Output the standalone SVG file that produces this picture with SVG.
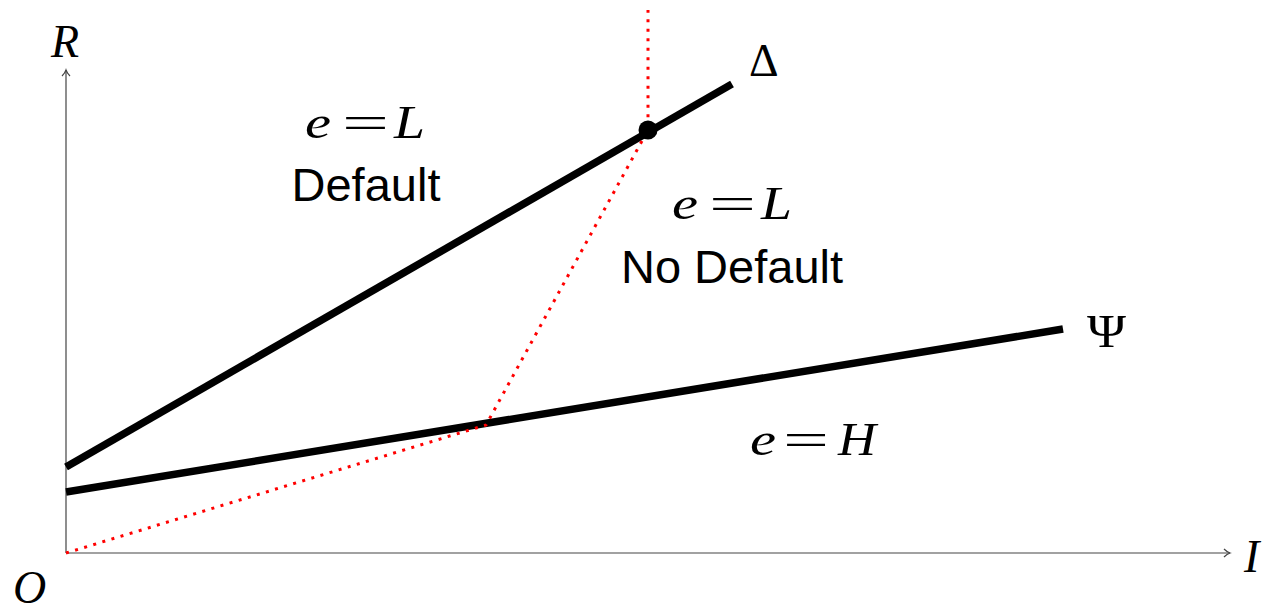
<svg xmlns="http://www.w3.org/2000/svg" width="1262" height="608" viewBox="0 0 1262 608">
<style>
.axis{stroke:#444;stroke-width:1.2;fill:none}
.thick{stroke:#000;stroke-width:7.5;fill:none;stroke-linecap:butt}
.red{stroke:#f00;stroke-width:3;fill:none;stroke-dasharray:3 6.5}
.m{font-family:"Liberation Serif","Times New Roman",serif;font-size:46px;fill:#000}
.i{font-style:italic}
.s{font-family:"Liberation Sans",Arial,sans-serif;font-size:47px;fill:#000}
</style>
<defs>
<marker id="ah" markerWidth="10" markerHeight="10" refX="8" refY="5" orient="auto" markerUnits="userSpaceOnUse">
<path d="M2,1 Q5,4 8,5 Q5,6 2,9" fill="none" stroke="#444" stroke-width="1.2"/>
</marker>
</defs>
<g id="axes">
<line class="axis" x1="66" y1="553" x2="66" y2="70" marker-end="url(#ah)"/>
<line class="axis" x1="66" y1="553" x2="1230" y2="553" marker-end="url(#ah)"/>
</g>
<g id="connectors">
<line id="delta-line" class="thick" x1="66" y1="467" x2="732" y2="84"/>
<line id="psi-line" class="thick" x1="66" y1="492" x2="1063" y2="329"/>
<polyline id="red-path" class="red" points="66,553 486,425 648,130 648,10"/>
</g>
<g id="dot"><circle cx="648" cy="130" r="9.5" fill="#000"/></g>
<g id="axis-labels">
<text class="m i" x="51" y="57" font-size="43">R</text>
<text class="m i" x="13" y="603" font-size="44">O</text>
<text class="m i" x="1244" y="572" font-size="48">I</text>
<text class="m" x="749" y="76" font-size="48">Δ</text>
<text class="m" x="1087" y="347" font-size="50" textLength="39" lengthAdjust="spacingAndGlyphs">Ψ</text>
</g>
<g id="region-default">
<text class="m i" x="305" y="138" textLength="26" lengthAdjust="spacingAndGlyphs">e</text>
<text class="m" x="342" y="138" textLength="47" lengthAdjust="spacingAndGlyphs">=</text>
<text class="m i" x="394" y="138" textLength="31" lengthAdjust="spacingAndGlyphs">L</text>
<text class="s" x="366" y="201" text-anchor="middle">Default</text>
</g>
<g id="region-nodefault">
<text class="m i" x="672" y="219" textLength="26" lengthAdjust="spacingAndGlyphs">e</text>
<text class="m" x="709" y="219" textLength="47" lengthAdjust="spacingAndGlyphs">=</text>
<text class="m i" x="761" y="219" textLength="31" lengthAdjust="spacingAndGlyphs">L</text>
<text class="s" x="732" y="283" text-anchor="middle">No Default</text>
</g>
<g id="region-high">
<text class="m i" x="750" y="455" textLength="26" lengthAdjust="spacingAndGlyphs">e</text>
<text class="m" x="783" y="455" textLength="46" lengthAdjust="spacingAndGlyphs">=</text>
<text class="m i" x="838" y="455" textLength="38" lengthAdjust="spacingAndGlyphs">H</text>
</g>
</svg>
